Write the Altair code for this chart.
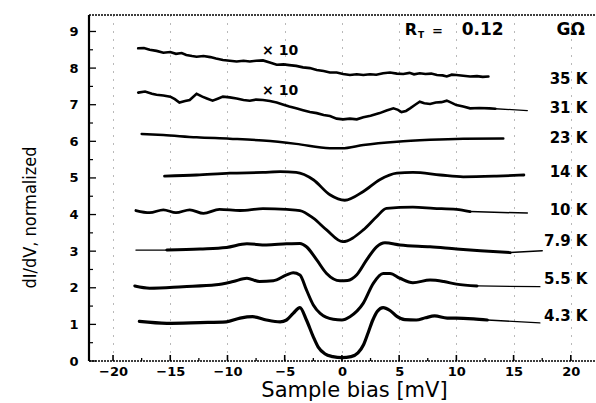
import altair as alt
import pandas as pd

# ---------------- data ----------------
X_43 = [-17.7, -15.3, -12.4, -10.1, -8.9, -7.8, -6.6, -5.4, -4.84, -4.26, -3.67, -3.1, -2.5, -2.07, -1.5, -0.8, 0.0, 0.8, 1.4, 1.9, 2.3, 2.7, 3.1, 3.6, 4.2, 4.8, 5.5, 6.5, 7.3, 8.1, 9.2, 10.0, 11.5, 12.7]
Y_43 = [1.08, 1.03, 1.05, 1.07, 1.17, 1.21, 1.12, 1.07, 1.12, 1.3, 1.46, 1.12, 0.66, 0.38, 0.2, 0.12, 0.09, 0.12, 0.22, 0.45, 0.78, 1.12, 1.36, 1.46, 1.38, 1.22, 1.13, 1.12, 1.18, 1.23, 1.17, 1.17, 1.15, 1.12]
X_43_TAIL = [12.7, 17.3]
Y_43_TAIL = [1.12, 1.04]

X_55 = [-18.1, -16.8, -13.9, -11.0, -9.5, -8.3, -7.2, -6.0, -4.84, -4.26, -3.67, -3.1, -2.5, -1.9, -0.76, 0.0, 0.7, 1.87, 2.74, 3.6, 4.2, 5.07, 6.2, 7.7, 8.9, 10.0, 11.8]
Y_55 = [2.05, 1.99, 2.03, 2.08, 2.17, 2.26, 2.17, 2.19, 2.35, 2.41, 2.35, 1.94, 1.53, 1.3, 1.14, 1.12, 1.21, 1.58, 2.12, 2.39, 2.39, 2.26, 2.14, 2.21, 2.17, 2.1, 2.05]
X_55_TAIL = [11.8, 17.3]
Y_55_TAIL = [2.05, 2.03]

X_79_HEAD = [-18.0, -15.3]
Y_79_HEAD = [3.03, 3.03]
X_79 = [-15.3, -12.4, -10.1, -8.3, -6.6, -4.84, -3.67, -3.1, -2.2, -1.34, -0.17, 0.5, 1.28, 2.16, 3.03, 3.76, 5.07, 7.7, 10.0, 12.1, 14.7]
Y_79 = [3.03, 3.06, 3.1, 3.2, 3.17, 3.2, 3.21, 3.12, 2.76, 2.39, 2.19, 2.2, 2.35, 2.76, 3.12, 3.23, 3.17, 3.12, 3.06, 3.01, 2.96]
X_79_TAIL = [14.7, 17.5]
Y_79_TAIL = [2.96, 3.01]

X_10 = [-18.0, -16.8, -15.6, -14.5, -13.3, -12.1, -10.7, -8.9, -6.9, -4.84, -3.67, -2.5, -1.34, 0.06, 1.87, 3.03, 3.9, 6.2, 8.0, 10.0, 11.2]
Y_10 = [4.11, 4.05, 4.13, 4.05, 4.13, 4.03, 4.14, 4.11, 4.16, 4.14, 4.11, 3.9, 3.58, 3.26, 3.58, 3.94, 4.17, 4.2, 4.17, 4.14, 4.08]
X_10_TAIL = [11.2, 16.2]
Y_10_TAIL = [4.08, 4.04]

X_14 = [-15.5, -12.7, -9.8, -6.9, -5.4, -4.0, -2.5, -1.05, 0.25, 1.87, 3.3, 4.8, 6.2, 8.6, 10.6, 13.5, 15.9]
Y_14 = [5.05, 5.08, 5.13, 5.15, 5.17, 5.15, 4.95, 4.54, 4.39, 4.63, 4.95, 5.13, 5.15, 5.08, 5.03, 5.05, 5.08]

X_23 = [-17.5, -15.6, -12.7, -9.8, -6.9, -4.0, -1.05, 0.0, 1.87, 4.8, 7.7, 10.6, 14.1]
Y_23 = [6.2, 6.17, 6.11, 6.07, 6.02, 5.93, 5.81, 5.81, 5.9, 5.99, 6.04, 6.07, 6.08]

X_31 = [-17.8, -17.2, -16.6, -16.2, -15.6, -15.0, -14.6, -14.2, -13.7, -13.3, -12.7, -12.2, -11.8, -11.3, -10.8, -10.4, -9.8, -9.2, -8.6, -8.05, -7.5, -6.9, -6.3, -5.7, -5.1, -4.6, -4.0, -3.4, -2.8, -2.2, -1.6, -1.05, -0.46, 0.1, 0.7, 1.3, 1.87, 2.5, 3.3, 3.9, 4.5, 4.9, 5.2, 5.6, 5.95, 6.4, 6.8, 7.2, 7.7, 8.2, 8.7, 9.16, 9.6, 10.0, 10.6, 11.2, 12.0, 12.9, 13.4]
Y_31 = [7.33, 7.36, 7.3, 7.27, 7.25, 7.22, 7.15, 7.06, 7.1, 7.13, 7.3, 7.22, 7.17, 7.11, 7.17, 7.22, 7.2, 7.17, 7.13, 7.11, 7.14, 7.13, 7.1, 7.06, 7.0, 6.95, 6.9, 6.85, 6.8, 6.77, 6.72, 6.69, 6.62, 6.6, 6.62, 6.6, 6.66, 6.7, 6.77, 6.84, 6.9, 6.86, 6.8, 6.83, 6.9, 7.0, 7.08, 7.04, 7.02, 7.06, 7.07, 7.11, 7.05, 6.99, 6.95, 6.9, 6.91, 6.9, 6.89]
X_31_TAIL = [13.4, 16.2]
Y_31_TAIL = [6.89, 6.84]

X_35 = [-17.8, -17.3, -16.8, -16.2, -15.6, -15.0, -14.5, -14.0, -13.6, -13.1, -12.7, -12.1, -11.5, -11.0, -10.4, -9.8, -9.2, -8.6, -8.05, -7.5, -6.9, -6.3, -5.7, -5.1, -4.6, -4.0, -3.4, -2.8, -2.2, -1.6, -1.05, -0.46, 0.1, 0.7, 1.3, 1.87, 2.45, 3.0, 3.6, 4.2, 4.8, 5.36, 5.9, 6.3, 6.8, 7.3, 7.8, 8.3, 8.8, 9.16, 9.6, 10.0, 10.6, 11.2, 11.8, 12.3, 12.8]
Y_35 = [8.54, 8.55, 8.5, 8.47, 8.42, 8.44, 8.39, 8.41, 8.36, 8.33, 8.31, 8.33, 8.3, 8.26, 8.22, 8.2, 8.18, 8.2, 8.18, 8.2, 8.21, 8.15, 8.09, 8.1, 8.08, 8.06, 8.02, 8.0, 7.95, 7.92, 7.88, 7.88, 7.84, 7.81, 7.83, 7.81, 7.83, 7.82, 7.86, 7.88, 7.85, 7.84, 7.87, 7.83, 7.86, 7.84, 7.85, 7.81, 7.8, 7.77, 7.82, 7.81, 7.79, 7.77, 7.78, 7.76, 7.77]

TEMP_LABELS = ["35 K", "31 K", "23 K", "14 K", "10 K", "7.9 K", "5.5 K", "4.3 K"]
TEMP_LABEL_Y = [7.7, 6.91, 6.09, 5.16, 4.13, 3.28, 2.24, 1.23]
TEMP_LABEL_X = 21.45

SCALE_LABELS = ["\u00d7 10", "\u00d7 10"]
SCALE_LABEL_X = [-5.4, -5.4]
SCALE_LABEL_Y = [8.47, 7.37]

RT_EQ_X = 8.35
RT_TEXT = ["0.12", "G\u03a9"]
RT_X = [12.3, 20.0]
RT_Y = 8.9

X_TICKS = [-20, -15, -10, -5, 0, 5, 10, 15, 20]
X_MINOR = [-17.5, -12.5, -7.5, -2.5, 2.5, 7.5, 12.5, 17.5]
Y_TICKS = [0, 1, 2, 3, 4, 5, 6, 7, 8, 9]
Y_MINOR = [0.5, 1.5, 2.5, 3.5, 4.5, 5.5, 6.5, 7.5, 8.5]

X_DOMAIN = [-22.1, 22.2]
Y_DOMAIN = [0, 9.45]

W, H = 507, 346

# ---------------- build tables ----------------
def seg(name, xs, ys, width):
    return pd.DataFrame({"x": xs, "y": ys, "seg": name, "w": width})

smooth = pd.concat([
    seg("43", X_43, Y_43, 3.2),
    seg("55", X_55, Y_55, 3.0),
    seg("79", X_79, Y_79, 3.0),
    seg("10", X_10, Y_10, 2.8),
    seg("14", X_14, Y_14, 2.8),
    seg("23", X_23, Y_23, 2.5),
], ignore_index=True)

noisy = pd.concat([
    seg("31", X_31, Y_31, 2.6),
    seg("35", X_35, Y_35, 2.6),
    seg("43t", X_43_TAIL, Y_43_TAIL, 1.3),
    seg("55t", X_55_TAIL, Y_55_TAIL, 1.3),
    seg("79h", X_79_HEAD, Y_79_HEAD, 1.3),
    seg("79t", X_79_TAIL, Y_79_TAIL, 1.5),
    seg("10t", X_10_TAIL, Y_10_TAIL, 1.5),
    seg("31t", X_31_TAIL, Y_31_TAIL, 1.3),
], ignore_index=True)

xs = alt.Scale(domain=X_DOMAIN, nice=False, zero=False)
ys = alt.Scale(domain=Y_DOMAIN, nice=False, zero=False)

x_axis = alt.Axis(
    values=X_TICKS, grid=True, gridDash=[1, 7], gridColor="#000", gridOpacity=0.55,
    gridWidth=1, domain=False, ticks=False, labelPadding=4, labelFont="DejaVu Sans",
    labelFontWeight="bold", labelFontSize=13, labelColor="#000", labelOverlap=False,
    title="Sample bias [mV]", titleFont="DejaVu Sans", titleFontWeight="normal",
    titleFontSize=21, titleColor="#000", titleX=265, titleY=35,
    titleBaseline="alphabetic", titleAlign="center",
)
y_axis = alt.Axis(
    values=Y_TICKS, grid=False, domain=False, ticks=False, labelPadding=11,
    labelFont="DejaVu Sans", labelFontWeight="bold", labelFontSize=13, labelColor="#000",
    labelBaseline="middle", labelOverlap=False,
    title="dI/dV, normalized", titleFont="Liberation Sans Narrow, DejaVu Sans Condensed, Liberation Sans",
    titleFontWeight="normal", titleFontSize=18, titleColor="#000",
    titleX=-54, titleY=202, titleBaseline="alphabetic", titleAngle=270, titleAlign="center",
)

# every layer carries the same axis definition, so the merged axes stay identical
X = lambda f: alt.X(f, scale=xs, axis=x_axis, title="Sample bias [mV]")
Y = lambda f: alt.Y(f, scale=ys, axis=y_axis, title="dI/dV, normalized")

base_smooth = alt.Chart(smooth).mark_line(interpolate="monotone", color="#000", strokeCap="round").encode(
    x=X("x:Q"), y=Y("y:Q"),
    detail="seg:N",
    strokeWidth=alt.StrokeWidth("w:Q", scale=None),
    order="x:Q",
)

lines_noisy = alt.Chart(noisy).mark_line(interpolate="linear", color="#000", strokeCap="round").encode(
    x=X("x:Q"), y=Y("y:Q"),
    detail="seg:N",
    strokeWidth=alt.StrokeWidth("w:Q", scale=None),
    order="x:Q",
)

# axis lines (left solid, bottom and top dotted) and inward ticks
left_line = alt.Chart(pd.DataFrame({"v": [0]})).mark_rule(color="#000", strokeWidth=2.2).encode(
    x=alt.value(0), y=alt.value(0), y2=alt.value(H))
bottom_line = alt.Chart(pd.DataFrame({"v": [0]})).mark_rule(color="#000", strokeWidth=1.6, strokeDash=[2, 1]).encode(
    x=alt.value(0), x2=alt.value(W), y=alt.value(H))
top_frame = alt.Chart(pd.DataFrame({"v": [0]})).mark_rule(color="#000", strokeWidth=1.5, strokeDash=[2, 1]).encode(
    x=alt.value(0), x2=alt.value(W), y=alt.value(0))

ymaj = alt.Chart(pd.DataFrame({"v": Y_TICKS})).mark_rule(color="#000", strokeWidth=1.3).encode(
    y=Y("v:Q"), x=alt.value(0), x2=alt.value(7))
ymin = alt.Chart(pd.DataFrame({"v": Y_MINOR})).mark_rule(color="#000", strokeWidth=1.2).encode(
    y=Y("v:Q"), x=alt.value(0), x2=alt.value(4))
xmaj = alt.Chart(pd.DataFrame({"v": X_TICKS})).mark_rule(color="#000", strokeWidth=1.6).encode(
    x=X("v:Q"), y=alt.value(H), y2=alt.value(H - 6))
xmin = alt.Chart(pd.DataFrame({"v": X_MINOR})).mark_rule(color="#000", strokeWidth=1.3).encode(
    x=X("v:Q"), y=alt.value(H), y2=alt.value(H - 3))

temps = alt.Chart(pd.DataFrame({"t": TEMP_LABELS, "y": TEMP_LABEL_Y, "x": [TEMP_LABEL_X] * len(TEMP_LABELS)})).mark_text(
    align="right", baseline="middle", font="DejaVu Sans", fontWeight="bold", fontSize=15, color="#000").encode(
    x=X("x:Q"), y=Y("y:Q"), text="t:N")

scales = alt.Chart(pd.DataFrame({"t": SCALE_LABELS, "x": SCALE_LABEL_X, "y": SCALE_LABEL_Y})).mark_text(
    align="center", baseline="middle", font="DejaVu Sans", fontWeight="bold", fontSize=14, color="#000").encode(
    x=X("x:Q"), y=Y("y:Q"), text="t:N")

rt_r = alt.Chart(pd.DataFrame({"t": ["R"], "x": [5.5], "y": [RT_Y]})).mark_text(
    align="left", baseline="alphabetic", font="DejaVu Sans", fontWeight="bold", fontSize=16, color="#000").encode(
    x=X("x:Q"), y=Y("y:Q"), text="t:N")
rt_sub = alt.Chart(pd.DataFrame({"t": ["T"], "x": [6.65], "y": [RT_Y]})).mark_text(
    align="left", baseline="alphabetic", dy=3, font="DejaVu Sans", fontWeight="bold", fontSize=9, color="#000").encode(
    x=X("x:Q"), y=Y("y:Q"), text="t:N")
rt_eq = alt.Chart(pd.DataFrame({"t": ["="], "x": [RT_EQ_X], "y": [RT_Y]})).mark_text(
    align="center", baseline="alphabetic", font="DejaVu Sans", fontWeight="bold", fontSize=13, color="#000").encode(
    x=X("x:Q"), y=Y("y:Q"), text="t:N")
rt_rest = alt.Chart(pd.DataFrame({"t": RT_TEXT, "x": RT_X, "y": [RT_Y] * len(RT_TEXT)})).mark_text(
    align="center", baseline="alphabetic", font="DejaVu Sans", fontWeight="bold", fontSize=17, color="#000").encode(
    x=X("x:Q"), y=Y("y:Q"), text="t:N")

chart = alt.layer(
    base_smooth, lines_noisy, left_line, bottom_line, top_frame, ymaj, ymin, xmaj, xmin,
    temps, scales, rt_r, rt_sub, rt_eq, rt_rest
).properties(
    width=W, height=H,
    autosize=alt.AutoSizeParams(type="none"),
    padding={"left": 89, "top": 15, "right": 0, "bottom": 42},
    background="white",
).configure_view(stroke=None)

chart.save("out.html", embed_options={"renderer": "svg", "actions": False})
